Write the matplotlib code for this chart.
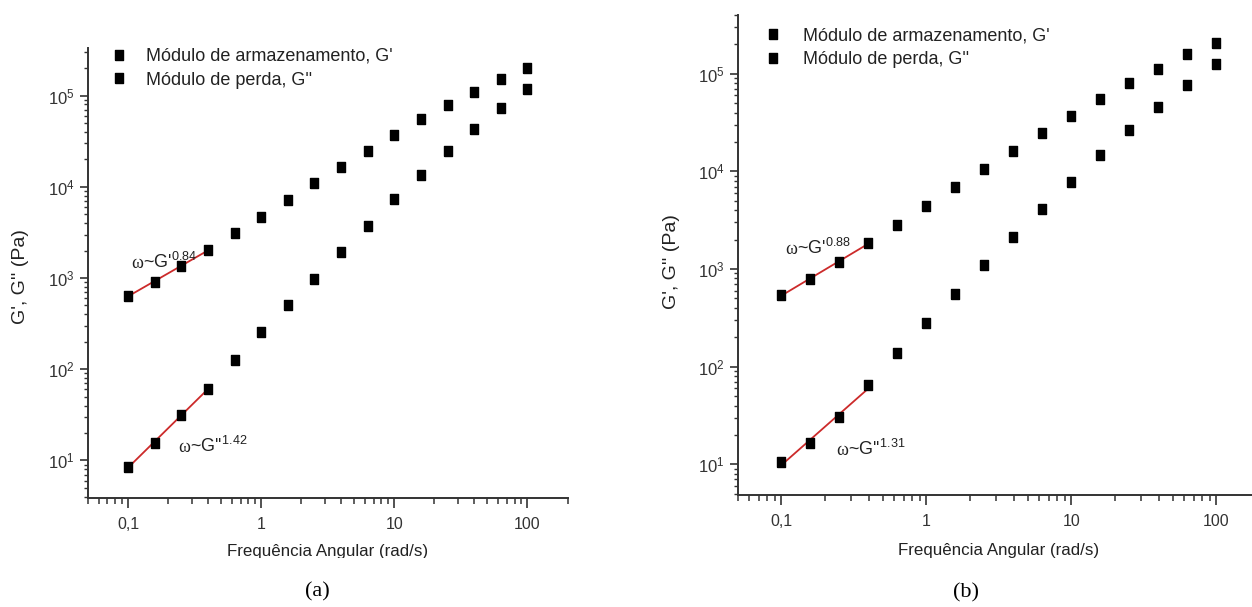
import numpy as np
import matplotlib
matplotlib.use("Agg")
import matplotlib.pyplot as plt
from matplotlib.ticker import FixedLocator, FixedFormatter, LogLocator, NullFormatter, LogFormatterSciNotation
from matplotlib.patches import Rectangle

plt.rcParams['font.family'] = ['Liberation Sans', 'DejaVu Sans']
plt.rcParams['mathtext.fontset'] = 'custom'
plt.rcParams['mathtext.rm'] = 'Liberation Sans'
plt.rcParams['mathtext.it'] = 'Liberation Sans:italic'
plt.rcParams['mathtext.bf'] = 'Liberation Sans:bold'

# frequencia angular (rad/s)
freq = [0.1, 0.158, 0.251, 0.398, 0.631, 1.0, 1.585, 2.512, 3.981, 6.31,
        10.0, 15.85, 25.12, 39.81, 63.1, 100.0]

# painel (a)
g1_a = [640, 910, 1340, 2040, 3100, 4710, 7150, 10900, 16500, 24900,
        37300, 55000, 78500, 110000, 153000, 202000]
g2_a = [8.5, 15.6, 31.4, 61, 126, 255, 512, 980, 1940, 3720,
        7280, 13600, 24900, 43300, 72700, 118000]

# painel (b)
g1_b = [542, 790, 1180, 1850, 2850, 4420, 6860, 10600, 16300, 25000,
        36600, 55000, 80000, 113000, 158000, 207000]
g2_b = [10.6, 16.4, 30.4, 64.4, 137, 279, 555, 1100, 2140, 4100,
        7800, 14600, 26300, 46000, 77000, 126000]

expoentes_a = ["0.84", "1.42"]
expoentes_b = ["0.88", "1.31"]

xticks = [0.1, 1, 10, 100]
xticklabels = ["0,1", "1", "10", "100"]
legenda = ["Módulo de armazenamento, G'", "Módulo de perda, G''"]

n_fit = 4  # pontos usados no ajuste (0,1 a 0,4 rad/s)
quadrado = [(-0.85, -1), (0.85, -1), (0.85, 1), (-0.85, 1), (-0.85, -1)]
cor_txt = '#222222'
cor_eixo = '#333333'

fig = plt.figure(figsize=(12.52, 6.07), dpi=100)
ax_a = fig.add_axes([0.0703, 0.180, 0.383, 0.7404])
ax_b = fig.add_axes([0.5892, 0.1853, 0.4172, 0.790])


def anotar(ax, x, y, nome, expo):
    t = ax.text(x, y, "ω", family='Liberation Serif', fontsize=13,
                color=cor_txt, va='baseline', ha='left')
    ax.annotate(nome + "$^{" + expo + "}$", xy=(1, 0), xycoords=t,
                va='bottom', ha='left', fontsize=13, color=cor_txt)


def painel(ax, g1, g2, expo, ylim, leg_pos, leg_pad, pos_txt1, pos_txt2,
           ylab_x, ylab_y, xlab_y):
    for g in (g1, g2):
        lx = np.log10(freq[:n_fit])
        ly = np.log10(g[:n_fit])
        a, b = np.polyfit(lx, ly, 1)
        xf = np.array([freq[0], freq[n_fit - 1]])
        ax.plot(xf, 10 ** (a * np.log10(xf) + b), color='#cc2a2a', lw=1.3, zorder=2)
    ax.plot(freq, g1, ls='none', marker=quadrado, ms=6.8, color='black',
            label=legenda[0], zorder=3)
    ax.plot(freq, g2, ls='none', marker=quadrado, ms=6.8, color='black',
            label=legenda[1], zorder=3)

    ax.set_xscale('log')
    ax.set_yscale('log')
    ax.set_xlim(0.05, 200)
    ax.set_ylim(*ylim)

    ax.xaxis.set_major_locator(FixedLocator(xticks))
    ax.xaxis.set_major_formatter(FixedFormatter(xticklabels))
    ax.xaxis.set_minor_locator(LogLocator(base=10, subs=np.arange(2, 10)))
    ax.xaxis.set_minor_formatter(NullFormatter())
    ax.yaxis.set_major_locator(LogLocator(base=10, numticks=10))
    ax.yaxis.set_major_formatter(LogFormatterSciNotation())
    ax.yaxis.set_minor_locator(LogLocator(base=10, subs=np.arange(2, 10), numticks=10))
    ax.yaxis.set_minor_formatter(NullFormatter())

    for s in ('top', 'right'):
        ax.spines[s].set_visible(False)
    for s in ('left', 'bottom'):
        ax.spines[s].set_linewidth(1.4)
        ax.spines[s].set_color(cor_eixo)
    ax.tick_params(axis='x', which='major', length=7, width=1.2, pad=7,
                   labelsize=11.5, colors=cor_eixo)
    ax.tick_params(axis='x', which='minor', length=4, width=1.1, colors=cor_eixo)
    ax.tick_params(axis='y', which='major', length=5.5, width=1.2, pad=4,
                   labelsize=12, colors=cor_eixo)
    ax.tick_params(axis='y', which='minor', length=3, width=1.0, colors=cor_eixo)

    ax.set_xlabel("Frequência Angular (rad/s)", fontsize=12.2, color=cor_txt)
    ax.xaxis.set_label_coords(0.5, xlab_y)
    ax.set_ylabel("G', G'' (Pa)", fontsize=14, color=cor_txt)
    ax.yaxis.set_label_coords(ylab_x, ylab_y)

    ax.legend(loc='upper left', bbox_to_anchor=leg_pos, frameon=False,
              fontsize=13, numpoints=1, handlelength=1.0, handletextpad=leg_pad,
              borderpad=0, borderaxespad=0, labelspacing=0.37, markerscale=1.1,
              labelcolor=cor_txt)

    anotar(ax, pos_txt1[0], pos_txt1[1], "~G'", expo[0])
    anotar(ax, pos_txt2[0], pos_txt2[1], "~G''", expo[1])


painel(ax_a, g1_a, g2_a, expoentes_a, (3.9, 3.3e5), (0.0459, 1.001), 0.98,
       (0.106, 1300), (0.237, 12.4), -0.123, 0.493, -0.103)
painel(ax_b, g1_b, g2_b, expoentes_b, (4.9, 4.0e5), (0.0498, 0.9746), 1.17,
       (0.107, 1435), (0.238, 12.4), -0.110, 0.485, -0.101)

fig.text(317 / 1252, 1 - 592 / 607, "(a)", family='Liberation Serif', fontsize=16,
         ha='center', va='center', color='black')
fig.text(966 / 1252, 1 - 593 / 607, "(b)", family='Liberation Serif', fontsize=16,
         ha='center', va='center', color='black')

# o rotulo do eixo x aparece cortado na figura original
fig.add_artist(Rectangle((0, 1 - 575 / 607), 1, 17 / 607, transform=fig.transFigure,
                         facecolor='white', edgecolor='none', zorder=10))

fig.savefig("out.png", dpi=100)
